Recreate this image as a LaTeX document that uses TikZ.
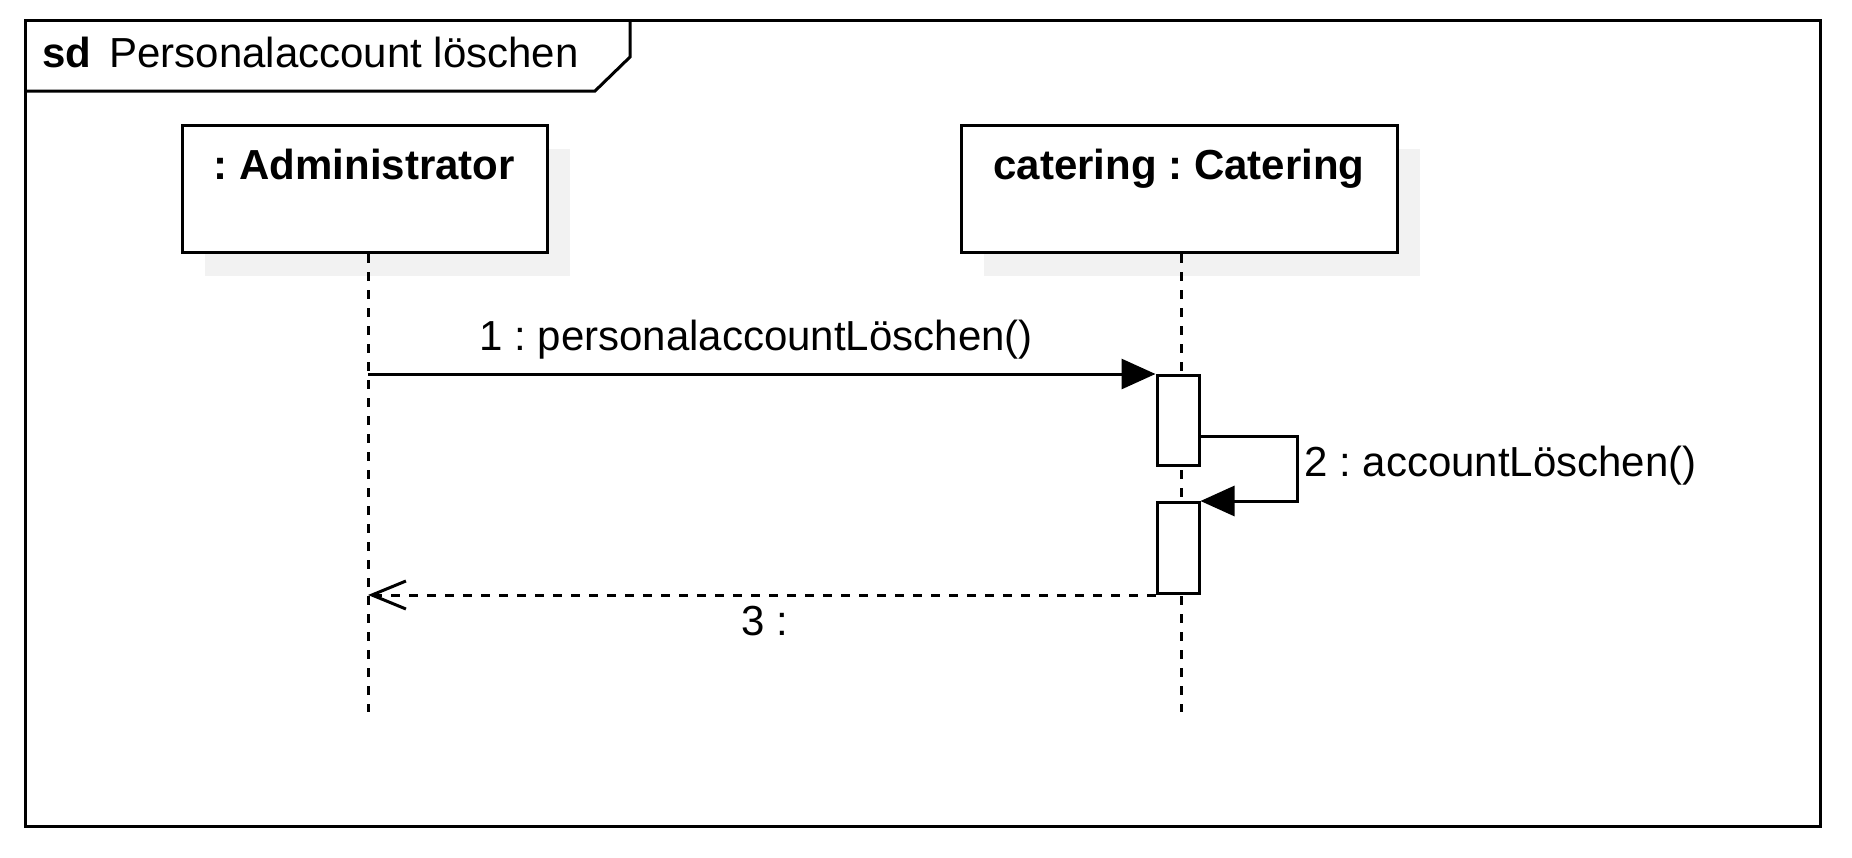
\documentclass[tikz,border=0pt]{standalone}
\usepackage{fontspec}
\setmainfont{Liberation Sans}
\usetikzlibrary{arrows.meta}
\usetikzlibrary{shadows}
\frenchspacing

\begin{document}
\begin{tikzpicture}[
                          x=0.5pt, y=-0.5pt, line width=1.5pt,
                          font=\fontsize{21pt}{25pt}\selectfont,
                          lifebox/.style={rectangle, draw, fill=white, inner sep=0pt, anchor=north, text height=27pt, text depth=36.5pt, font=\fontsize{21pt}{25pt}\selectfont\bfseries, general shadow={fill=black!5, shadow xshift=11.5pt, shadow yshift=-11.5pt}},
                          activation/.style={rectangle, draw, fill=white, inner sep=0pt, anchor=north, minimum width=21pt},
                          lifeline/.style={dash pattern=on 4.5pt off 4.5pt},
                          callmsg/.style={-{Triangle[length=17pt, width=15pt]}},
                          replymsg/.style={dash pattern=on 4.5pt off 4.5pt, -{Straight Barb[length=17pt, width=14pt]}},
                          msglabel/.style={anchor=base west, inner sep=0pt},
                      ]
                      \useasboundingbox (0,0) rectangle (1852,857);

                      % Frame
                      \draw (25,20) rectangle (1820,826);
                      \draw (25,91) -- (595,91) -- (630,57) -- (630,20);
                      \node[msglabel, font=\fontsize{21pt}{25pt}\selectfont\bfseries] (sd_kw) at (41,67) {sd};
                      \node[msglabel] (sd_title) at (108,67) {Personalaccount löschen};

                      % Nodes
                      \node[lifebox, minimum width=182.5pt]   (admin)      at (364.5,124)   {: Administrator};
                      \node[lifebox, minimum width=218pt]     (catering)   at (1179,124)    {catering : Catering};
                      \coordinate (admin_end)    at (368,712);
                      \coordinate (catering_end) at (1181,712);

                      %Lines
                      \draw[lifeline] (admin.south -| admin_end) -- (admin_end);
                      \draw[lifeline] (catering.south -| catering_end) -- (catering_end);

                      \node[activation, minimum height=45pt]   (act_1)   at (1178,374)   {};
                      \node[activation, minimum height=45.5pt] (act_2)   at (1178,501)   {};
                      \coordinate (self_turn) at (1297,436);

                      \draw[callmsg] (act_1.north west -| admin_end) -- (act_1.north west);
                      \draw[callmsg] (act_1.east |- self_turn) -- (self_turn) |- (act_2.north east);
                      \draw[replymsg] (act_2.south west) -- (act_2.south west -| admin_end);

                      \node[msglabel] (msg_1) at (478,350)  {1 : personalaccountLöschen()};
                      \node[msglabel] (msg_2) at (1303,476) {2 : accountLöschen()};
                      \node[msglabel] (msg_3) at (740,635)  {3 :};
                  \end{tikzpicture}
\end{document}
